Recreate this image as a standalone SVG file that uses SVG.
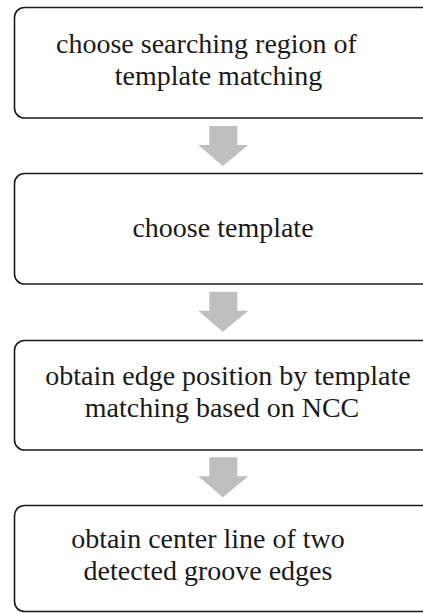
<svg xmlns="http://www.w3.org/2000/svg" width="423" height="613" viewBox="0 0 423 613">
<style>
.box{fill:#ffffff;stroke:#1a1a1a;stroke-width:1.6}
.lbl{font-family:"Liberation Serif","Times New Roman",serif;font-size:28px;fill:#1a1a1a;text-anchor:middle}
.arr{fill:#bfbfbf}
</style>
<rect width="423" height="613" fill="#ffffff"/>
<g id="node1">
<rect class="box" x="14.5" y="7.5" width="440" height="110.5" rx="10"/>
<text class="lbl" x="206.5" y="53">choose searching region of</text>
<text class="lbl" x="218.5" y="85">template matching</text>
</g>
<g id="node2">
<rect class="box" x="14.5" y="173.5" width="440" height="110.5" rx="10"/>
<text class="lbl" x="223" y="237">choose template</text>
</g>
<g id="node3">
<rect class="box" x="14.5" y="340.5" width="440" height="109.5" rx="10"/>
<text class="lbl" x="228" y="385">obtain edge position by template</text>
<text class="lbl" x="222" y="417">matching based on NCC</text>
</g>
<g id="node4">
<rect class="box" x="14.5" y="505.5" width="440" height="106" rx="10"/>
<text class="lbl" x="208" y="548">obtain center line of two</text>
<text class="lbl" x="208" y="580"> detected groove edges</text>
</g>
<g id="connectors">
<polygon class="arr" points="209.3,126 237.3,126 237.3,145 248.3,145 222.8,166 198.3,145 209.3,145"/>
<polygon class="arr" points="209.3,291.7 237.3,291.7 237.3,310.7 248.3,310.7 222.8,331.7 198.3,310.7 209.3,310.7"/>
<polygon class="arr" points="209.3,457.3 237.3,457.3 237.3,476.3 248.3,476.3 222.8,497.3 198.3,476.3 209.3,476.3"/>
</g>
</svg>
